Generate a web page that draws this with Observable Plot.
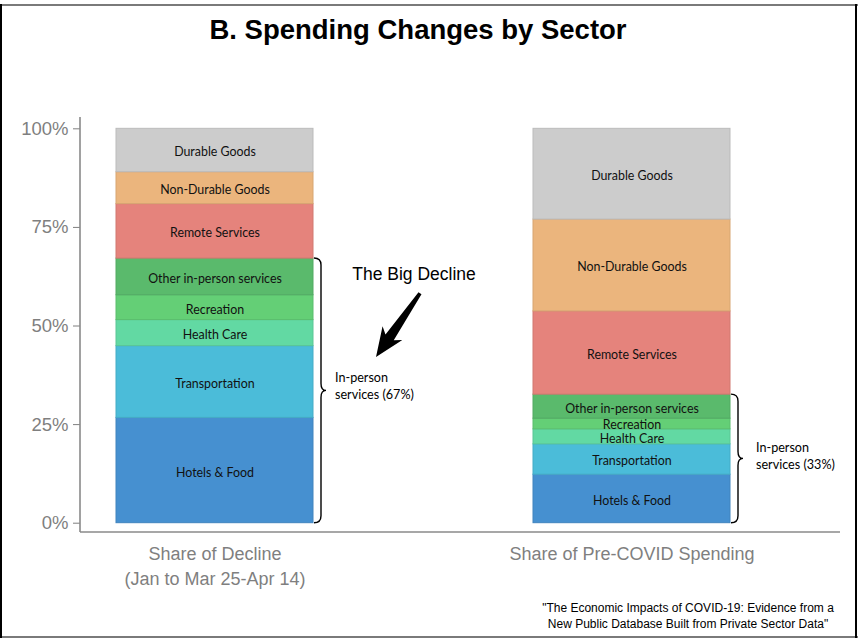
<!DOCTYPE html>
<html>
<head>
<meta charset="utf-8">
<script src="https://cdn.jsdelivr.net/npm/d3@7"></script>
<script src="https://cdn.jsdelivr.net/npm/@observablehq/plot@0.6"></script>
<style>
  html, body { margin: 0; padding: 0; background: #fff; }
  #wrap { position: relative; width: 858px; height: 640px; overflow: hidden; background: #fff; }
  #title { position: absolute; left: 0; top: 14px; width: 836px; text-align: center;
           font: bold 27.5px "Liberation Sans", Arial, sans-serif; color: #000; }
  #chart { position: absolute; left: 0; top: 62px; }
  #caption { position: absolute; left: 540px; top: 600px; width: 296px; text-align: center;
             font: 12px "Liberation Sans", Arial, sans-serif; line-height: 16px; color: #000; }
  .edge { position: absolute; }
</style>
</head>
<body>
<div id="wrap">
  <div class="edge" style="left:0;top:4px;width:858px;height:2px;background:#7a7a7a"></div>
  <div class="edge" style="left:0;top:636px;width:858px;height:2px;background:#7a7a7a"></div>
  <div class="edge" style="left:0;top:4px;width:2px;height:634px;background:#000"></div>
  <div class="edge" style="left:855px;top:4px;width:2px;height:634px;background:#000"></div>
  <div id="title">B. Spending Changes by Sector</div>
  <div id="chart"></div>
  <div id="caption">"The Economic Impacts of COVID-19: Evidence from a<br>New Public Database Built from Private Sector Data"</div>
</div>
<script>
// ---- data ----
const groups = ["Share of Decline\n(Jan to Mar 25-Apr 14)", "Share of Pre-COVID Spending"];
const sectors = ["Hotels & Food", "Transportation", "Health Care", "Recreation",
                 "Other in-person services", "Remote Services", "Non-Durable Goods", "Durable Goods"];
const declineShare  = [26.7, 18.2, 6.6, 6.3, 9.3, 13.8, 8.1, 11.0];
const preCovidShare = [12.3, 7.7, 3.8, 2.7, 6.1, 21.1, 23.3, 23.0];
const sectorColors = ["#4690d0", "#4bbcd9", "#62d9a3", "#64cf76", "#5aba6c", "#e5837c", "#ebb57d", "#cccccc"];
const inPersonCount = 5; // first five sectors are in-person services
const inPersonLabels = ["In-person\nservices (67%)", "In-person\nservices (33%)"];
const yTicks = [0, 25, 50, 75, 100];
const annotation = "The Big Decline";

const seriesByGroup = [declineShare, preCovidShare];
const rows = [];
groups.forEach((g, gi) => {
  let cum = 0;
  sectors.forEach((s, si) => {
    const v = seriesByGroup[gi][si];
    rows.push({group: g, sector: s, value: v, color: sectorColors[si], mid: cum + v / 2});
    cum += v;
  });
});
// label positions: segment midpoints, nudged apart where segments are too thin for text
const minGap = 3.55; // in percentage points (≈ one text line)
groups.forEach(gr => {
  const rs = rows.filter(r => r.group === gr);
  rs.forEach(r => r.ly = r.mid);
  for (let it = 0; it < 50; it++) {
    for (let i = 1; i < rs.length; i++) {
      const gap = rs[i].ly - rs[i - 1].ly;
      if (gap < minGap) { const push = (minGap - gap) / 2; rs[i].ly += push; rs[i - 1].ly -= push; }
    }
  }
});

const axisGray = "#7f7f7f";
const labelFont = "Lato, 'Open Sans', sans-serif";

const chart = Plot.plot({
  width: 858,
  height: 535,
  marginLeft: 80,
  marginRight: 18,
  marginTop: 55,
  marginBottom: 65,
  style: {fontFamily: "'Liberation Sans', Arial, sans-serif", background: "transparent"},
  x: {domain: groups, paddingInner: 0.5276, paddingOuter: 0.175, align: 0.247, label: null},
  y: {domain: [-2.36, 102.87], label: null},
  color: {domain: sectors, range: sectorColors},
  marks: [
    Plot.barY(rows, {x: "group", y: "value", fill: "sector",
      stroke: d => d3.color(d.color).darker(0.25).formatHex(), strokeWidth: 1}),
    Plot.text(rows, {x: "group", y: "ly", text: "sector", dy: 2,
      fontSize: 12.4, fontFamily: labelFont, fill: "#111"}),
    Plot.axisY({ticks: yTicks, tickFormat: d => d + "%", tickSize: 7, tickPadding: 5,
      fontSize: 18.5, color: axisGray, stroke: axisGray, label: null}),
    Plot.axisX({tickSize: 0, tickPadding: 10, fontSize: 18, color: axisGray, lineHeight: 1.38, label: null})
  ]
});
document.getElementById("chart").appendChild(chart);

// ---- annotations positioned from Plot's own scales ----
const xs = chart.scale("x"), ys = chart.scale("y");
const X = v => xs.apply(v), Y = v => ys.apply(v), bw = xs.bandwidth;
const svg = d3.select(chart);
const [yLo, yHi] = ys.domain;
const g = svg.append("g");

// axis lines
g.append("line").attr("x1", 80).attr("x2", 80).attr("y1", Y(yHi)).attr("y2", Y(yLo))
  .attr("stroke", "#8a8a8a").attr("stroke-width", 1.6);
g.append("line").attr("x1", 80).attr("x2", 858 - 18).attr("y1", Y(yLo)).attr("y2", Y(yLo))
  .attr("stroke", "#8a8a8a").attr("stroke-width", 1.6);

// braces + labels
groups.forEach((grp, gi) => {
  const top = d3.sum(seriesByGroup[gi].slice(0, inPersonCount));
  const x0 = X(grp) + bw + 1, w = 7, s = 5;
  const yt = Y(top), yb = Y(0), ym = (yt + yb) / 2;
  const d = `M${x0},${yt} Q${x0 + w},${yt} ${x0 + w},${yt + w} L${x0 + w},${ym - w} ` +
            `Q${x0 + w},${ym} ${x0 + w + s},${ym} Q${x0 + w},${ym} ${x0 + w},${ym + w} ` +
            `L${x0 + w},${yb - w} Q${x0 + w},${yb} ${x0},${yb}`;
  g.append("path").attr("d", d).attr("fill", "none").attr("stroke", "#000").attr("stroke-width", 1.4);
  const tx = x0 + w + s + (gi === 0 ? 9 : 13);
  const t = g.append("text").attr("x", tx).attr("y", ym - (gi === 0 ? 8 : 6))
    .attr("text-anchor", "start")
    .attr("font-family", labelFont).attr("font-size", 12.6).attr("fill", "#000");
  inPersonLabels[gi].split("\n").forEach((line, li) =>
    t.append("tspan").attr("x", tx).attr("dy", li === 0 ? "0" : "1.3em").text(line));
});

// "The Big Decline" arrow
{
  const bx = X(groups[0]) + bw;
  const tail = [bx + 107, Y(58.2)], tip = [bx + 63, Y(42.0)];
  const dx = tip[0] - tail[0], dy = tip[1] - tail[1], L = Math.hypot(dx, dy);
  const u = [dx / L, dy / L], n = [-u[1], u[0]];
  const P = (a, b) => [tail[0] + u[0] * a + n[0] * b, tail[1] + u[1] * a + n[1] * b];
  const h = 24;
  const pts = [P(0, 1.8), P(L - h, 5), P(L - h - 5, 12), P(L, 0), P(L - h - 5, -12), P(L - h, -5), P(0, -1.8)];
  g.append("polygon").attr("points", pts.map(p => p.join(",")).join(" ")).attr("fill", "#000");
  g.append("text").attr("x", bx + 101).attr("y", Y(63.2)).attr("dy", "0.35em")
    .attr("text-anchor", "middle").attr("font-family", "'Liberation Sans', Arial, sans-serif")
    .attr("font-size", 17.5).attr("fill", "#000").text(annotation);
}
</script>
</body>
</html>
